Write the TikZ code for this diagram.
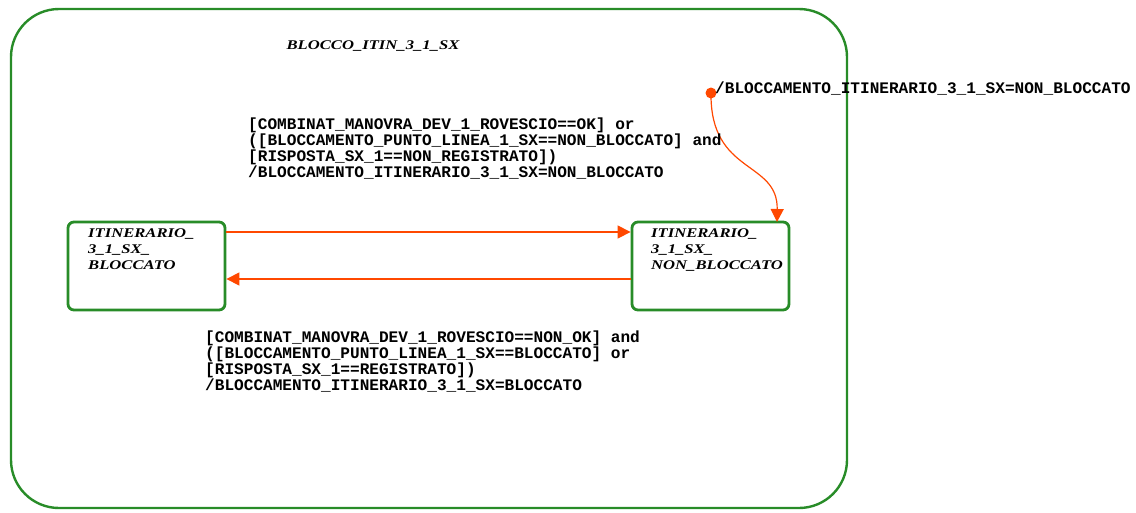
\documentclass[tikz,border=0pt]{standalone}
\usepackage{fontspec}
\usetikzlibrary{arrows.meta}
\newfontfamily\stfont{Liberation Serif}[FakeStretch=1.25]
\newfontfamily\lblfont{Liberation Mono}
\definecolor{stgreen}{RGB}{40,140,40}
\definecolor{trred}{RGB}{255,72,0}
\tikzset{
  x=1pt, y=-1pt,
  outerbox/.style={draw=stgreen, line width=2.4pt, rounded corners=48pt, minimum width=836pt, minimum height=499pt, inner sep=0pt},
  statebox/.style={draw=stgreen, line width=2.8pt, rounded corners=6pt, minimum width=157pt, minimum height=88pt, inner sep=0pt},
  statetext/.style={anchor=base west, align=left, inner sep=0pt, font=\stfont\bfseries\itshape\fontsize{13.3}{16}\selectfont},
  titletext/.style={anchor=base, inner sep=0pt, font=\stfont\bfseries\itshape\fontsize{13.3}{16}\selectfont},
  trlabel/.style={anchor=base west, align=left, inner sep=0pt, font=\lblfont\bfseries\fontsize{16.1}{16}\selectfont},
  trans/.style={draw=trred, line width=1.2pt, -{Triangle[length=13pt,width=13pt]}},
}
\begin{document}
\begin{tikzpicture}
\useasboundingbox (0,0) rectangle (1136,512);
\fill[white] (0,0) rectangle (1136,512);
% outer superstate
\node[outerbox] (blk) at (429,258.5) {};
\node[titletext] (title) at (373,49) {BLOCCO\_ITIN\_3\_1\_SX};
% states
\node[statebox] (bl) at (146.5,266) {};
\node[statetext] (blt) at (88,269) {ITINERARIO\_\\3\_1\_SX\_\\BLOCCATO};
\node[statebox] (nb) at (710.5,266) {};
\node[statetext] (nbt) at (651,269) {ITINERARIO\_\\3\_1\_SX\_\\NON\_BLOCCATO};
% transitions
\draw[trans] (bl.east |- 0,232) -- (nb.west |- 0,232);
\draw[trans] (nb.west |- 0,279) -- (bl.east |- 0,279);
% default transition
\fill[trred] (711,93) circle (5.5pt) coordinate (dot);
\coordinate (dtgt) at (777,222);
\draw[trans] (dot) .. controls (710,175) and (778,160) .. (dtgt);
% labels
\node[trlabel] (lbltop) at (248,177) {{[}COMBINAT\_MANOVRA\_DEV\_1\_ROVESCIO==OK] or\\([BLOCCAMENTO\_PUNTO\_LINEA\_1\_SX==NON\_BLOCCATO] and\\{[}RISPOSTA\_SX\_1==NON\_REGISTRATO])\\/BLOCCAMENTO\_ITINERARIO\_3\_1\_SX=NON\_BLOCCATO};
\node[trlabel] (lblbot) at (205,390) {{[}COMBINAT\_MANOVRA\_DEV\_1\_ROVESCIO==NON\_OK] and\\([BLOCCAMENTO\_PUNTO\_LINEA\_1\_SX==BLOCCATO] or\\{[}RISPOSTA\_SX\_1==REGISTRATO])\\/BLOCCAMENTO\_ITINERARIO\_3\_1\_SX=BLOCCATO};
\node[trlabel] (lbldef) at (715,93) {/BLOCCAMENTO\_ITINERARIO\_3\_1\_SX=NON\_BLOCCATO};
\end{tikzpicture}
\end{document}
